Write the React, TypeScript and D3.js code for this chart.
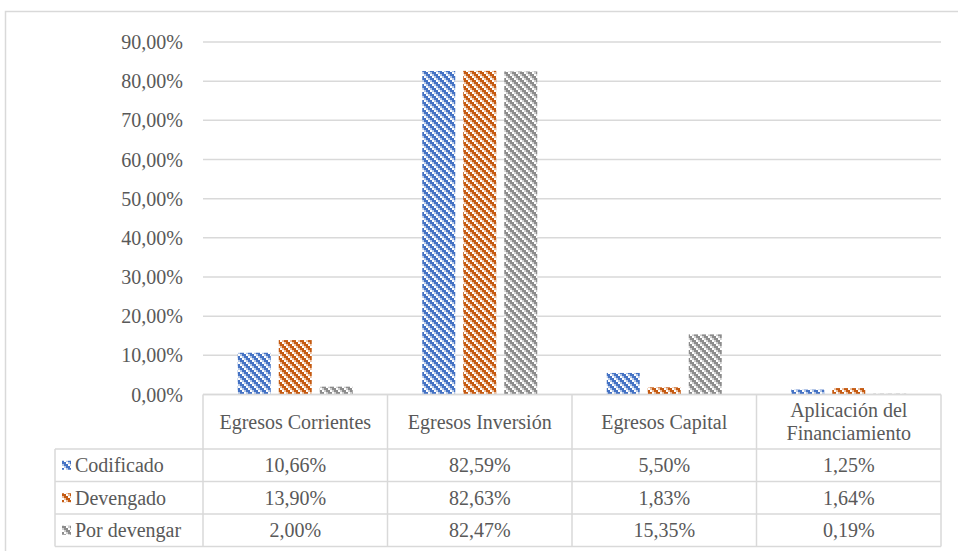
import React from "react";
import * as d3 from "d3";

const categories = ["Egresos Corrientes", "Egresos Inversión", "Egresos Capital", "Aplicación del Financiamiento"];
const categoryLines = [["Egresos Corrientes"], ["Egresos Inversión"], ["Egresos Capital"], ["Aplicación del", "Financiamiento"]];
const seriesNames = ["Codificado", "Devengado", "Por devengar"];
const codificado = [10.66, 82.59, 5.5, 1.25];
const devengado = [13.9, 82.63, 1.83, 1.64];
const porDevengar = [2.0, 82.47, 15.35, 0.19];
const yTicks = [0, 10, 20, 30, 40, 50, 60, 70, 80, 90];

const seriesValues = [codificado, devengado, porDevengar];
const colors = ["#4472C4", "#C55A11", "#8C8C8C"];
const tints = ["#B4C7E7", "#EBBE9E", "#CFCFCF"];

const fmt = (v: number) => v.toFixed(2).replace(".", ",") + "%";

export default function App() {
  const W = 958, H = 551;
  const left = 203, right = 941;
  const y0 = 394.5, yTop = 42;
  const x = d3.scaleBand<string>().domain(categories).range([left, right]).paddingInner(0).paddingOuter(0);
  const y = d3.scaleLinear().domain([0, 90]).range([y0, yTop]);
  const bw = 33, gap = 8;
  const groupW = 3 * bw + 2 * gap;
  const headerBottom = 449;
  const rowH = 32.5;
  const tableLeft = 55;
  const font = "Liberation Serif, Times New Roman, serif";
  const textColor = "#595959";
  const border = "#D9D9D9";

  const patternCells = (i: number) => {
    const cells: JSX.Element[] = [];
    for (let by = 0; by < 4; by++) {
      for (let bx = 0; bx < 4; bx++) {
        const m = (((bx - by) % 4) + 4) % 4;
        let fill: string | null = null;
        if (m === 0) fill = colors[i];
        else if (m === 1) fill = (bx + by) % 2 === 1 ? colors[i] : tints[i];
        else if (m === 3) fill = tints[i];
        if (fill) cells.push(<rect key={`${bx}-${by}`} x={bx * 2} y={by * 2} width={2} height={2} fill={fill} />);
      }
    }
    return cells;
  };

  const T = (props: any) => <text fontFamily={font} fontSize={20} fill={textColor} dy="0.35em" {...props} />;

  return (
    <svg width={W} height={H} style={{ position: "absolute", left: 0, top: 0, display: "block" }}>
      <defs>
        {colors.map((c, i) => (
          <pattern key={i} id={`pat${i}`} patternUnits="userSpaceOnUse" width={8} height={8}>
            <rect width={8} height={8} fill="#fff" />
            {patternCells(i)}
          </pattern>
        ))}
      </defs>
      <rect x={0} y={0} width={W} height={H} fill="#fff" />
      <rect x={5.5} y={11.5} width={970} height={570} fill="none" stroke={border} strokeWidth={1.5} />
      {yTicks.map((t) => (
        <line key={t} x1={left} x2={right} y1={y(t)} y2={y(t)} stroke={border} strokeWidth={1.5} />
      ))}
      {yTicks.map((t) => (
        <T key={"l" + t} x={183} y={y(t)} textAnchor="end">{fmt(t)}</T>
      ))}
      {seriesValues.map((vals, si) =>
        vals.map((v, ci) => {
          const cx = (x(categories[ci]) as number) + x.bandwidth() / 2;
          const bx = cx - groupW / 2 + si * (bw + gap);
          return (
            <rect key={`${si}-${ci}`} x={bx} y={y(v)} width={bw} height={y0 - y(v)} fill={`url(#pat${si})`} />
          );
        })
      )}
      <g stroke={border} strokeWidth={1.5} fill="none">
        <line x1={left} x2={right} y1={y0} y2={y0} />
        <line x1={tableLeft} x2={right} y1={headerBottom} y2={headerBottom} />
        {[1, 2, 3].map((r) => (
          <line key={r} x1={tableLeft} x2={right} y1={headerBottom + r * rowH} y2={headerBottom + r * rowH} />
        ))}
        <line x1={tableLeft} x2={tableLeft} y1={headerBottom} y2={headerBottom + 3 * rowH} />
        {categories.map((c) => (
          <line key={c} x1={x(c)} x2={x(c)} y1={y0} y2={headerBottom + 3 * rowH} />
        ))}
        <line x1={right} x2={right} y1={y0} y2={headerBottom + 3 * rowH} />
      </g>
      {categoryLines.map((lines, ci) => {
        const cx = (x(categories[ci]) as number) + x.bandwidth() / 2;
        const mid = (y0 + headerBottom) / 2;
        return lines.map((ln, li) => (
          <T key={`${ci}-${li}`} x={cx} y={mid + (li - (lines.length - 1) / 2) * 23} textAnchor="middle">{ln}</T>
        ));
      })}
      {seriesNames.map((name, si) => {
        const ry = headerBottom + si * rowH + rowH / 2;
        return (
          <g key={name}>
            <rect x={62} y={ry - 4.5} width={9} height={9} fill={`url(#pat${si})`} />
            <T x={75} y={ry}>{name}</T>
            {seriesValues[si].map((v, ci) => (
              <T key={ci} x={(x(categories[ci]) as number) + x.bandwidth() / 2} y={ry} textAnchor="middle">{fmt(v)}</T>
            ))}
          </g>
        );
      })}
    </svg>
  );
}
